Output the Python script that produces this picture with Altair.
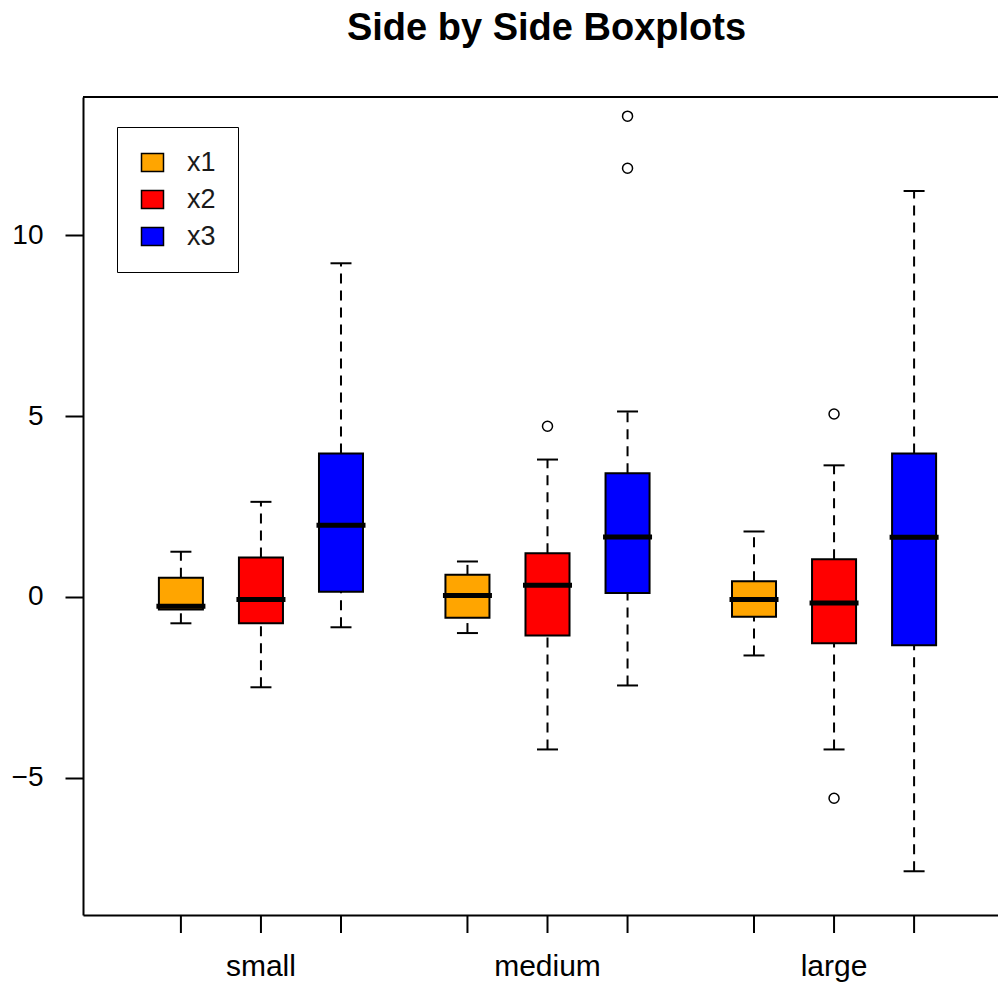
import altair as alt
import pandas as pd

groups = ["small", "medium", "large"]
series = ["x1", "x2", "x3"]
colors = ["#FFA500", "#FF0000", "#0000FF"]

# per-series statistics, one value per group (small, medium, large)
lower = {"x1": [-0.73, -1.00, -1.62], "x2": [-2.50, -4.22, -4.22], "x3": [-0.84, -2.45, -7.59]}
q1 = {"x1": [-0.35, -0.58, -0.55], "x2": [-0.73, -1.07, -1.28], "x3": [0.14, 0.11, -1.34]}
median = {"x1": [-0.26, 0.04, -0.07], "x2": [-0.07, 0.32, -0.17], "x3": [1.98, 1.66, 1.65]}
q3 = {"x1": [0.53, 0.61, 0.43], "x2": [1.09, 1.21, 1.04], "x3": [3.97, 3.42, 3.97]}
upper = {"x1": [1.25, 0.98, 1.81], "x2": [2.63, 3.80, 3.64], "x3": [9.23, 5.13, 11.23]}

out_group = ["medium", "medium", "medium", "large", "large"]
out_series = ["x2", "x3", "x3", "x2", "x2"]
out_value = [4.72, 13.30, 11.86, 5.06, -5.57]

rows = []
for s in series:
    for i, g in enumerate(groups):
        rows.append({"group": g, "series": s, "lower": lower[s][i], "q1": q1[s][i],
                     "median": median[s][i], "q3": q3[s][i], "upper": upper[s][i]})
box_df = pd.DataFrame(rows)
out_df = pd.DataFrame({"group": out_group, "series": out_series, "value": out_value})

FONT = "Liberation Sans"
Y_DOMAIN = [-8.80, 13.83]
W = 915          # visible plot width (frame is cropped on the right)
FULL_W = 929     # full band range of the x scale
H = 818


def X():
    return alt.X("group:N", sort=groups,
                 scale=alt.Scale(range=[0, FULL_W], paddingInner=0.162, paddingOuter=0.202),
                 axis=alt.Axis(title=None, labelAngle=0, ticks=False, domain=True,
                               domainColor="black", domainWidth=2,
                               labelFontSize=30, labelFont=FONT, labelColor="black",
                               labelPadding=36))


def XO():
    return alt.XOffset("series:N", sort=series,
                       scale=alt.Scale(paddingInner=0.45, paddingOuter=0.225))


def Y(field):
    return alt.Y(f"{field}:Q",
                 scale=alt.Scale(domain=Y_DOMAIN, nice=False, zero=False),
                 axis=alt.Axis(values=[-5, 0, 5, 10], title=None, grid=False,
                               domain=True, domainColor="black", domainWidth=2,
                               tickSize=18, tickWidth=2, tickColor="black",
                               labelFontSize=28, labelFont=FONT, labelColor="black",
                               labelPadding=22))


base = alt.Chart(box_df)

whisk_lo = base.mark_rule(color="black", strokeWidth=2, strokeDash=[10, 7]).encode(
    x=X(), xOffset=XO(), y=Y("lower"), y2="q1")
whisk_hi = base.mark_rule(color="black", strokeWidth=2, strokeDash=[10, 7]).encode(
    x=X(), xOffset=XO(), y=Y("q3"), y2="upper")
cap_lo = base.mark_tick(color="black", size=21, thickness=2, opacity=1).encode(
    x=X(), xOffset=XO(), y=Y("lower"))
cap_hi = base.mark_tick(color="black", size=21, thickness=2, opacity=1).encode(
    x=X(), xOffset=XO(), y=Y("upper"))
boxes = base.mark_bar(stroke="black", strokeWidth=2, opacity=1).encode(
    x=X(), xOffset=XO(), y=Y("q1"), y2="q3",
    color=alt.Color("series:N", sort=series,
                    scale=alt.Scale(domain=series, range=colors),
                    legend=alt.Legend(title=None, orient="none", legendX=34, legendY=30,
                                      symbolType="M-1.1,-0.9H1.1V0.9H-1.1Z", symbolSize=400,
                                      symbolStrokeColor="black", symbolStrokeWidth=1.5,
                                      symbolOpacity=1,
                                      labelFontSize=27, labelFont=FONT, labelColor="#1a1a1a",
                                      labelOffset=21, rowPadding=9,
                                      fillColor="white", strokeColor="black",
                                      padding=22)))
meds = base.mark_tick(color="black", size=49, thickness=5, opacity=1).encode(
    x=X(), xOffset=XO(), y=Y("median"))
xticks = base.mark_rule(color="black", strokeWidth=2).encode(
    x=X(), xOffset=XO(), y=alt.value(H), y2=alt.value(H + 18))
top_border = base.mark_rule(color="black", strokeWidth=2).encode(
    x=alt.value(0), x2=alt.value(FULL_W), y=alt.value(0))
outs = alt.Chart(out_df).mark_point(shape="circle", filled=False, color="black",
                                    size=100, strokeWidth=1.5, opacity=1).encode(
    x=X(), xOffset=XO(), y=Y("value"))

chart = alt.layer(whisk_lo, whisk_hi, cap_lo, cap_hi, boxes, meds, outs, xticks,
                  top_border).properties(
    width=W, height=H,
    padding={"left": 83, "top": 97, "right": 0, "bottom": 79},
    autosize=alt.AutoSizeParams(type="none"),
    background="white",
    title=alt.TitleParams("Side by Side Boxplots", fontSize=38, fontWeight="bold",
                          font=FONT, color="black", anchor="middle", offset=48, dx=6),
).configure_view(stroke=None)

chart.save("out.html", embed_options={"renderer": "svg", "actions": False})
